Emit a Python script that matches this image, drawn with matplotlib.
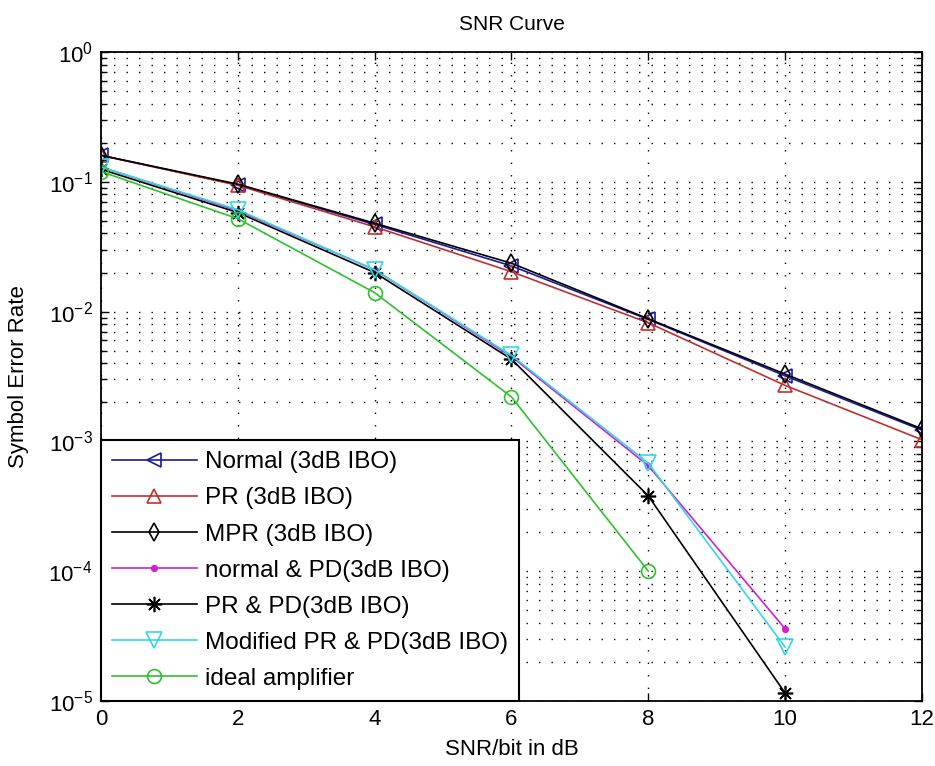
import numpy as np
import matplotlib
matplotlib.use('Agg')
import matplotlib.pyplot as plt
from matplotlib.ticker import LogLocator, NullFormatter, FixedLocator

# values (SNR/bit in dB vs symbol error rate)
snr = [0, 2, 4, 6, 8, 10, 12]
ser_normal = [0.16, 0.095, 0.047, 0.0225, 0.0087, 0.0032, 0.00122]
ser_pr = [0.16, 0.094, 0.045, 0.0203, 0.0082, 0.0027, 0.00103]
ser_mpr = [0.16, 0.096, 0.048, 0.0236, 0.0088, 0.0033, 0.00125]
ser_normal_pd = [0.13, 0.060, 0.021, 0.0045, 0.00065, 3.6e-5]
ser_pr_pd = [0.125, 0.058, 0.020, 0.0043, 0.00038, 1.15e-5]
ser_mod_pr_pd = [0.13, 0.061, 0.021, 0.0046, 0.00068, 2.6e-5]
ser_ideal = [0.12, 0.052, 0.014, 0.0022, 0.0001]

labels = ['Normal (3dB IBO)', 'PR (3dB IBO)', 'MPR (3dB IBO)',
          'normal & PD(3dB IBO)', 'PR & PD(3dB IBO)',
          'Modified PR & PD(3dB IBO)', 'ideal amplifier']

plt.rcParams['font.family'] = ['Liberation Sans', 'DejaVu Sans']

fig = plt.figure(figsize=(9.35, 7.66), dpi=100)
ax = fig.add_axes([0.108, 0.085, 0.878, 0.847])

asterisk = (8, 2, 0)  # matlab-style '*'
series = [
    (ser_normal, '#1a1a9c', '<', 10),
    (ser_pr, '#c03030', '^', 10),
    (ser_mpr, 'black', 'd', 9),
    (ser_normal_pd, '#d020d0', '.', 8),
    (ser_pr_pd, 'black', asterisk, 11),
    (ser_mod_pr_pd, '#30d8e8', 'v', 11),
    (ser_ideal, '#30c030', 'o', 10),
]
for (vals, col, mk, ms), lab in zip(series, labels):
    ax.semilogy(snr[:len(vals)], vals, color=col, marker=mk, markersize=ms,
                markerfacecolor=col if mk == '.' else 'none',
                markeredgecolor=col, markeredgewidth=1.2,
                linewidth=1.2, label=lab)

ax.set_xlim(0, 12)
ax.set_ylim(1e-5, 1)
ax.xaxis.set_major_locator(FixedLocator(snr))
ax.yaxis.set_major_locator(LogLocator(base=10, numticks=10))
ax.yaxis.set_minor_locator(LogLocator(base=10, subs=np.arange(2, 10), numticks=20))
ax.yaxis.set_minor_formatter(NullFormatter())

ax.grid(True, which='both', color='black', linestyle=(0, (1, 8)), linewidth=1.0)
ax.tick_params(which='both', direction='in', top=True, right=True, labelsize=16)
ax.tick_params(which='major', length=6, width=1, pad=6)
ax.tick_params(which='minor', length=4, width=1)
for sp in ax.spines.values():
    sp.set_linewidth(1.3)

ax.set_title('SNR Curve', fontsize=15, pad=16)
ax.set_xlabel('SNR/bit in dB', fontsize=16, labelpad=6)
ax.set_ylabel('Symbol Error Rate', fontsize=16, labelpad=14)

leg = ax.legend(loc='lower left', bbox_to_anchor=(0, 0), borderaxespad=0,
                fontsize=17.5, numpoints=1, fancybox=False, framealpha=1,
                edgecolor='black', handlelength=3.5, handletextpad=0.35,
                labelspacing=0.58, borderpad=0.45)
leg.get_frame().set_linewidth(1.5)

fig.savefig('out.png', dpi=100)
